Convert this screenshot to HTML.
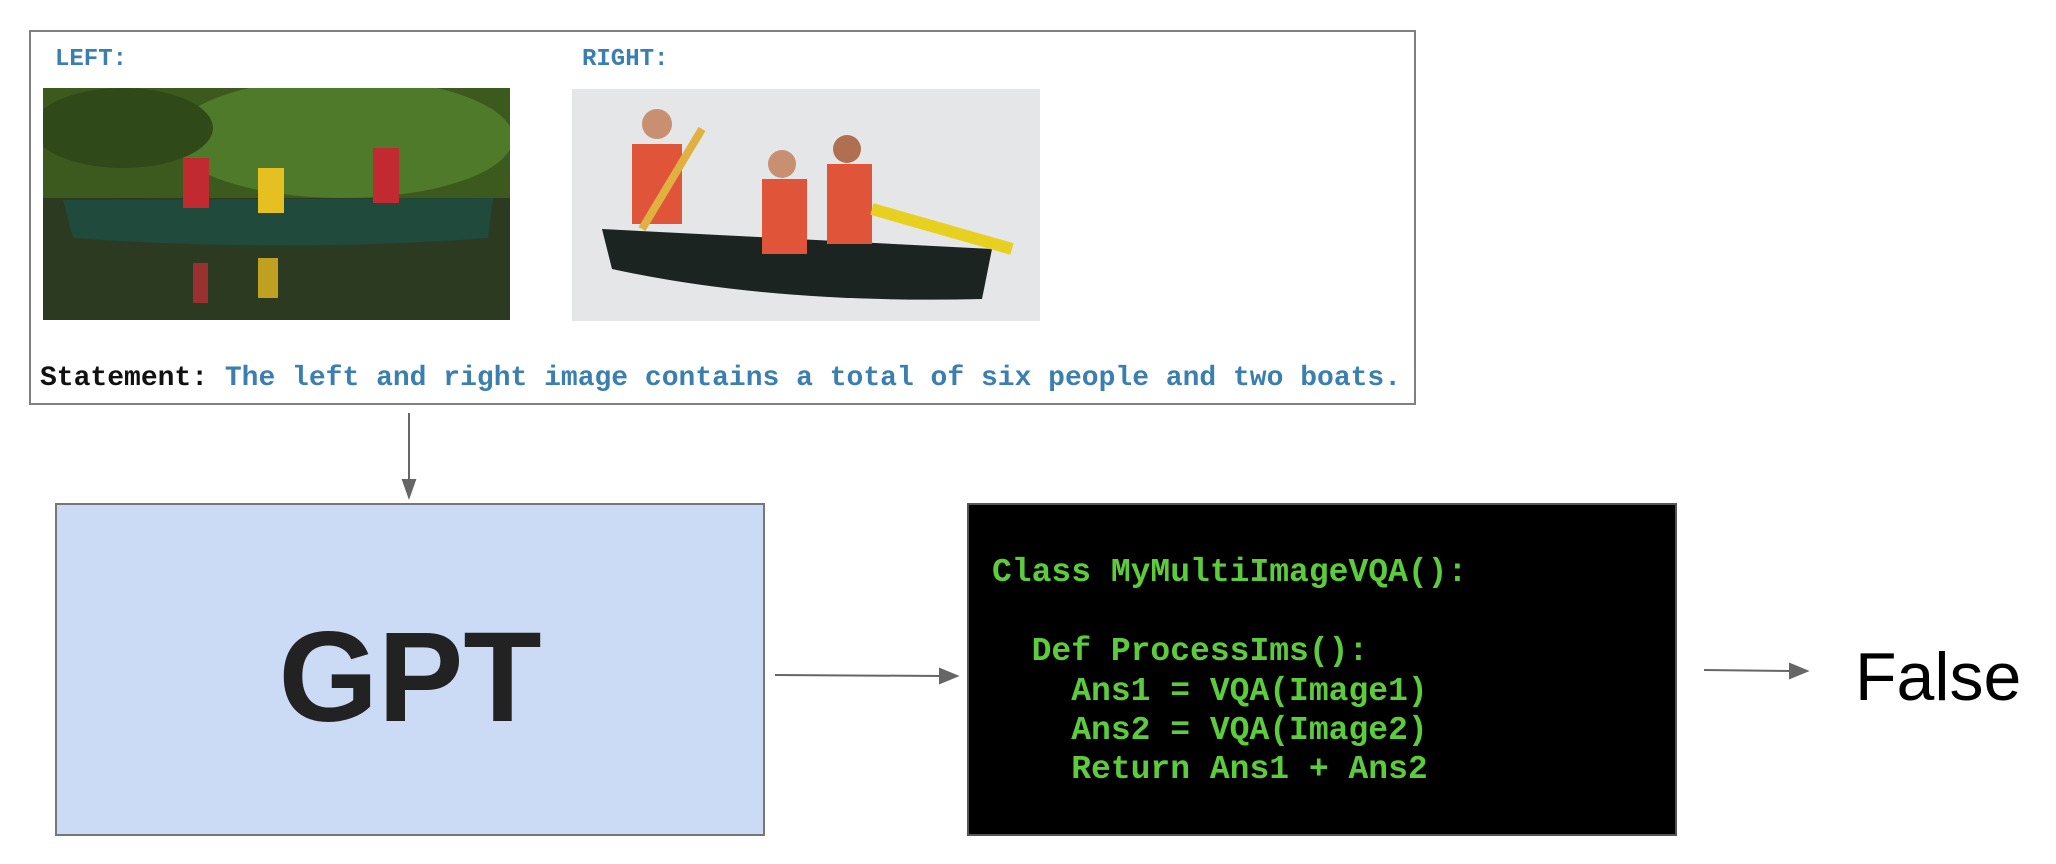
<!DOCTYPE html>
<html><head><meta charset="utf-8"><style>
body{margin:0;width:2056px;height:864px;background:#fff;position:relative;overflow:hidden;font-family:"Liberation Sans",sans-serif}
.a{position:absolute}
.mono{font-family:"Liberation Mono",monospace;font-weight:bold;white-space:pre}
.code{position:absolute;left:992px;color:#5ccc3c;font-size:33px;font-family:"Liberation Mono",monospace;font-weight:bold;white-space:pre;line-height:1}
</style></head><body>
<div class="a" style="left:29px;top:30px;width:1383px;height:371px;border:2px solid #808080"></div>
<div class="a mono" style="left:55px;top:46px;font-size:24px;color:#3a7fb0">LEFT:</div>
<div class="a mono" style="left:582px;top:46px;font-size:24px;color:#3a7fb0">RIGHT:</div>
<svg class="a" style="left:43px;top:88px" width="467" height="232" viewBox="0 0 467 232">
<rect width="467" height="232" fill="#2e3d1a"/>
<rect width="467" height="110" fill="#3d5a1e"/>
<ellipse cx="300" cy="50" rx="170" ry="60" fill="#4f7a2a"/>
<ellipse cx="80" cy="40" rx="90" ry="40" fill="#2f4a18"/>
<rect y="110" width="467" height="122" fill="#2c3a22"/>
<path d="M20 112 L450 110 L445 150 Q240 165 30 150 Z" fill="#1f4a3c"/>
<rect x="140" y="70" width="26" height="50" fill="#c02a30"/>
<rect x="215" y="80" width="26" height="45" fill="#e5c020"/>
<rect x="330" y="60" width="26" height="55" fill="#c02a30"/>
<rect x="150" y="175" width="15" height="40" fill="#9a3030"/>
<rect x="215" y="170" width="20" height="40" fill="#c0a020"/>
</svg>
<svg class="a" style="left:572px;top:89px" width="468" height="232" viewBox="0 0 468 232">
<rect width="468" height="232" fill="#e4e6e8"/>
<path d="M30 140 L420 160 L410 210 Q200 215 40 180 Z" fill="#1c2422"/>
<rect x="60" y="55" width="50" height="80" fill="#e0553a"/>
<rect x="190" y="90" width="45" height="75" fill="#e0553a"/>
<rect x="255" y="75" width="45" height="80" fill="#e0553a"/>
<circle cx="85" cy="35" r="15" fill="#c89070"/>
<circle cx="210" cy="75" r="14" fill="#c89070"/>
<circle cx="275" cy="60" r="14" fill="#b07050"/>
<path d="M300 120 L440 160" stroke="#e8d020" stroke-width="12"/>
<path d="M70 140 L130 40" stroke="#e0b040" stroke-width="8"/>
</svg>
<div class="a mono" style="left:40px;top:363px;font-size:28px;color:#111">Statement: <span style="color:#3a7fb0">The left and right image contains a total of six people and two boats.</span></div>
<svg class="a" style="left:0;top:0" width="2056" height="864">
<g stroke="#666" stroke-width="2" fill="#666">
<line x1="409" y1="413" x2="409" y2="482"/><path d="M403 480 L415 480 L409 497 Z"/>
<line x1="775" y1="675" x2="942" y2="676"/><path d="M940 669 L940 683 L957 676 Z"/>
<line x1="1704" y1="670" x2="1792" y2="671"/><path d="M1790 664 L1790 678 L1807 671 Z"/>
</g></svg>
<div class="a" style="left:55px;top:503px;width:706px;height:329px;background:#cbdaf5;border:2px solid #777;display:flex;align-items:center;justify-content:center;font-size:128px;font-weight:bold;color:#222;padding-top:16px;box-sizing:content-box;height:313px">GPT</div>
<div class="a" style="left:967px;top:503px;width:706px;height:329px;background:#000;border:2px solid #555"></div>
<div class="code" style="top:556px">Class MyMultiImageVQA():</div>
<div class="code" style="top:635px">  Def ProcessIms():</div>
<div class="code" style="top:675px">    Ans1 = VQA(Image1)</div>
<div class="code" style="top:714px">    Ans2 = VQA(Image2)</div>
<div class="code" style="top:753px">    Return Ans1 + Ans2</div>
<div class="a" style="left:1855px;top:643px;font-size:68px;color:#000;line-height:1">False</div>
</body></html>
